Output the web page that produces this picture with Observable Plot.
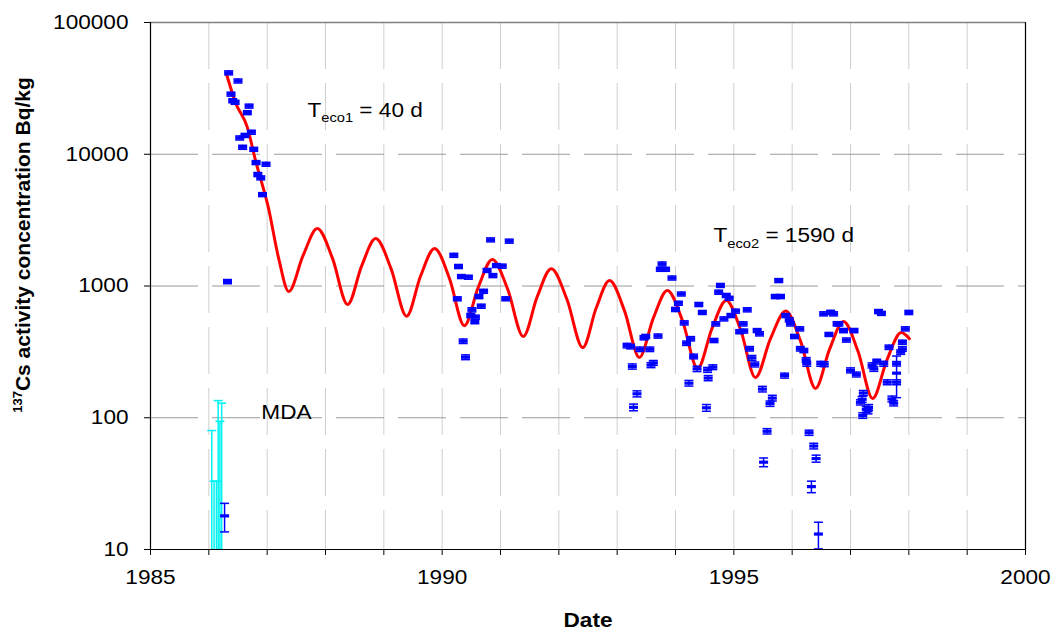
<!DOCTYPE html>
<html><head><meta charset="utf-8">
<script src="https://cdn.jsdelivr.net/npm/d3@7"></script>
<script src="https://cdn.jsdelivr.net/npm/@observablehq/plot@0.6"></script>
<style>
html,body{margin:0;padding:0;background:#fff;}
#chart svg{display:block;}
</style></head><body><div id="chart"></div>
<script>
// ---- Measured points (year, activity Bq/kg, ± error) ----
const ptYears = [
1986.27,1986.32,1986.34,1986.38,1986.41,1986.45,1986.50,1986.53,1986.58,1986.62,1986.66,1986.69,1986.73,1986.77,1986.81,1986.84,1986.89,1986.92,1986.98,
1990.20,1990.26,1990.28,1990.33,1990.36,1990.40,1990.45,1990.49,1990.51,1990.56,1990.57,1990.63,1990.67,1990.71,1990.77,1990.83,1990.87,1990.93,1991.03,1991.09,1991.15,
1993.17,1993.23,1993.26,1993.28,1993.34,1993.39,1993.46,1993.49,1993.56,1993.58,1993.62,1993.70,1993.74,1993.77,1993.83,1993.94,
1994.00,1994.05,1994.10,1994.15,1994.19,1994.23,1994.26,1994.31,1994.37,1994.40,1994.46,1994.53,1994.55,1994.56,1994.64,1994.66,1994.69,1994.74,1994.77,1994.83,1994.87,1994.92,1994.95,
1995.03,1995.10,1995.16,1995.17,1995.23,1995.27,1995.31,1995.36,1995.40,1995.44,1995.49,1995.51,1995.57,1995.62,1995.66,1995.71,1995.77,1995.80,1995.87,1995.89,1995.95,1995.97,
1996.04,1996.13,1996.14,1996.20,1996.24,1996.25,1996.29,1996.33,1996.37,1996.41,1996.45,1996.49,1996.54,1996.55,1996.63,1996.66,1996.71,1996.77,1996.80,1996.88,1996.93,
1997.00,1997.06,1997.10,1997.17,1997.20,1997.21,1997.22,1997.27,1997.30,1997.31,1997.37,1997.40,1997.45,1997.48,1997.53,1997.57,1997.63,1997.66,1997.71,1997.74,1997.79,1997.79,1997.79,1997.86,1997.89,1997.89,1997.94,1998.00];
const ptValues = [
18,1080,41500,28600,25500,24800,36000,13300,11300,13900,20700,23200,14700,10900,8650,7020,6620,4940,8400,
1710,800,1407,1180,381,288,1166,597,660,537,580,832,703,912,1313,2240,1200,1430,1415,800,2190,
353,347,245,120,152,331,405,414,331,251,261,417,1340,1470,1340,1150,
664,740,870,525,368,183,398,292,235,724,630,119,231,200,242,386,516,898,1010,563,848,807,597,
645,450,516,455,660,334,285,254,459,434,165,46,79,128,141,832,1100,832,209,597,554,516,
414,473,334,324,275,257,77,30,61,49,13.1,257,615,255,429,632,615,517,516,459,389,
229,459,213,131,138,104,154,116,113,120,250,235,267,640,620,257,186,343,139,129,218,257,186,315,333,374,473,630];
const ptErrors = [
4.4,40,1450,1000,900,870,1260,470,400,490,720,810,510,380,300,250,230,170,290,
60,28,50,41,15,12,41,22,24,20,21,30,25,32,46,78,42,50,50,28,77,
14,14,11,7,8,13,15,15,13,11,11,15,47,51,47,40,
24,26,30,19,14,9,15,12,11,26,22,7,10,9,10,14,19,32,35,20,30,28,21,
23,16,19,16,24,13,12,11,16,16,8,3.5,3.7,6,7,30,38,30,9,21,20,19,
15,17,13,12,11,11,3.5,3,3,3,3,11,22,11,15,22,22,19,19,17,14,
10,17,9,6,7,5,7,6,6,6,11,10,11,23,22,11,8,13,7,6,76,10,8,12,13,14,17,23];

// ---- MDA (minimum detectable activity) bars ----
const mdaYears = [1986.05,1986.09,1986.13,1986.16,1986.19,1986.22];
const mdaValues = [80,33,33,135,94,129];

// ---- Fitted model curve ----
const curveYears = [1986.30,1986.46,1986.66,1986.80,1987.02,1987.20,1987.37,1987.615,1987.86,1988.12,1988.38,1988.62,1988.86,1989.125,1989.39,1989.63,1989.87,1990.125,1990.38,1990.62,1990.86,1991.125,1991.39,1991.63,1991.87,1992.14,1992.41,1992.64,1992.87,1993.125,1993.38,1993.62,1993.86,1994.12,1994.38,1994.625,1994.87,1995.12,1995.37,1995.63,1995.89,1996.145,1996.40,1996.64,1996.88,1997.13,1997.38,1997.625,1997.87,1998.01];
const curveValues = [41000,24500,16000,8980,3950,1600,908,1700,2730,1620,724,1420,2290,1350,590,1190,1930,1140,500,980,1590,940,414,830,1350,790,341,680,1100,650,287,570,925,545,237,475,776,460,202,400,646,380,167,330,537,318,140,275,443,398];

// ---- Axes / annotations ----
const xTickYears = [1985,1986,1987,1988,1989,1990,1991,1992,1993,1994,1995,1996,1997,1998,1999,2000];
const xLabelYears = [1985,1990,1995,2000];
const gridYears = [1986,1987,1988,1989,1990,1991,1992,1993,1994,1995,1996,1997,1998,1999];
const yTicks = [10,100,1000,10000,100000];
const yGrid = [100,1000,10000];
const annoTexts = ["T|eco1| = 40 d","T|eco2| = 1590 d","MDA"];
const annoYears = [1987.69,1994.65,1986.90];
const annoValues = [21600,2400,110];
const xTitle = "Date";
const yTitle = "137|Cs activity concentration Bq/kg";

const pts = ptYears.map((x,i)=>({x, y: ptValues[i], lo: ptValues[i]-ptErrors[i], hi: ptValues[i]+ptErrors[i]}));
const curve = curveYears.map((x,i)=>({x, y: curveValues[i]}));
const mda = mdaYears.map((x,i)=>({x, y: mdaValues[i], y0: 10}));
const annos = annoTexts.map((t,i)=>({t, x: annoYears[i], y: annoValues[i]}));

const markerSym = {draw(ctx){ ctx.rect(-4.5,-1.6,9,3.2); }};
const capSym = {draw(ctx){ ctx.moveTo(-4.5,0); ctx.lineTo(4.5,0); }};
const BLUE = "#0000ff", CYAN = "#00f2f2";

const ML = 150, MR = 33, MT = 22, MB = 88, W = 1058, H = 637;
const plot = Plot.plot({
  width: W, height: H,
  marginLeft: ML, marginRight: MR, marginTop: MT, marginBottom: MB,
  style: {fontFamily: "'Liberation Sans', Arial, sans-serif", fontSize: "20px", color: "#000", background: "#fff"},
  x: {type: "linear", domain: [1985, 2000], label: null},
  y: {type: "log", domain: [10, 100000], label: null},
  marks: [
    Plot.ruleX(gridYears, {stroke: "#cfcfcf", strokeWidth: 1, strokeDasharray: "47,14"}),
    Plot.ruleY(yGrid, {stroke: "#9a9a9a", strokeWidth: 1.2, strokeDasharray: "48,14"}),
    Plot.ruleY([100000], {stroke: "#808080", strokeWidth: 1.5}),
    Plot.ruleX([2000], {stroke: "#000", strokeWidth: 1.2}),
    Plot.line(curve, {x: "x", y: "y", stroke: "#ff0000", strokeWidth: 3, curve: "monotone-x"}),
    Plot.ruleX(mda, {x: "x", y1: "y0", y2: "y", stroke: CYAN, strokeWidth: 1.5}),
    Plot.dot(mda, {x: "x", y: "y", symbol: capSym, stroke: CYAN, fill: "none", strokeWidth: 1.5}),
    Plot.ruleX(pts, {x: "x", y1: "lo", y2: "hi", stroke: BLUE, strokeWidth: 1.5}),
    Plot.dot(pts, {x: "x", y: "lo", symbol: capSym, stroke: BLUE, fill: "none", strokeWidth: 1.5}),
    Plot.dot(pts, {x: "x", y: "hi", symbol: capSym, stroke: BLUE, fill: "none", strokeWidth: 1.5}),
    Plot.dot(pts, {x: "x", y: "y", symbol: markerSym, fill: BLUE, stroke: "none"}),
    Plot.ruleX([1985], {stroke: "#000", strokeWidth: 1.2}),
    Plot.ruleY([10], {stroke: "#000", strokeWidth: 1.2}),
    Plot.axisX({ticks: xTickYears, tickSize: 6, tickFormat: () => "", label: null}),
    Plot.axisX({ticks: xLabelYears, tickSize: 0, tickPadding: 20, tickFormat: d => String(d), label: null}),
    Plot.axisY({ticks: yTicks, tickSize: 6, tickFormat: () => "", label: null}),
    Plot.axisY({ticks: yTicks, tickSize: 0, tickPadding: 22, tickFormat: d => String(d), label: null}),
    Plot.text(annos, {x: "x", y: "y", text: "t", textAnchor: "start", fill: "#000"}),
    Plot.text([xTitle], {frameAnchor: "bottom", dy: 77, fontWeight: "bold", fill: "#000"}),
    Plot.text([yTitle], {frameAnchor: "left", fontWeight: "bold", fontSize: 21, fill: "#000"})
  ]
});
document.getElementById("chart").appendChild(plot);

// rich text: subscripts / superscript
const svgNS = "http://www.w3.org/2000/svg";
plot.querySelectorAll("text").forEach(t => {
  const s = t.textContent;
  if (!s.includes("|")) return;
  const parts = s.split("|");
  t.textContent = "";
  const isTitle = s === yTitle;
  const a = document.createElementNS(svgNS, "tspan"); a.textContent = parts[0];
  const b = document.createElementNS(svgNS, "tspan"); b.textContent = parts[1];
  if (isTitle) {
    a.setAttribute("font-size", "13"); a.setAttribute("dy", "-8");
    b.setAttribute("dy", "8");
    t.append(a, b);
    t.setAttribute("data-nostretch", "1");
    // rotate the y title, centred beside the axis
    t.removeAttribute("x"); t.removeAttribute("dx");
    t.setAttribute("y", "0");
    t.setAttribute("dy", "0.35em");
    t.setAttribute("text-anchor", "middle");
    t.setAttribute("transform", `translate(${ML - 121},${(MT + H - MB) / 2 - 41}) rotate(-90)`);
  } else {
    const c = document.createElementNS(svgNS, "tspan"); c.textContent = parts[2];
    b.setAttribute("font-size", "13"); b.setAttribute("dy", "5.7");
    c.setAttribute("dy", "-5.7");
    t.append(a, b, c);
  }
});
// horizontal stretch of glyphs, as in the reference picture
plot.querySelectorAll("text").forEach(t => {
  if (t.getAttribute("data-nostretch")) return;
  const L = t.getComputedTextLength();
  if (!L) return;
  t.setAttribute("textLength", (L * 1.13).toFixed(1));
  t.setAttribute("lengthAdjust", "spacingAndGlyphs");
});
</script></body></html>
